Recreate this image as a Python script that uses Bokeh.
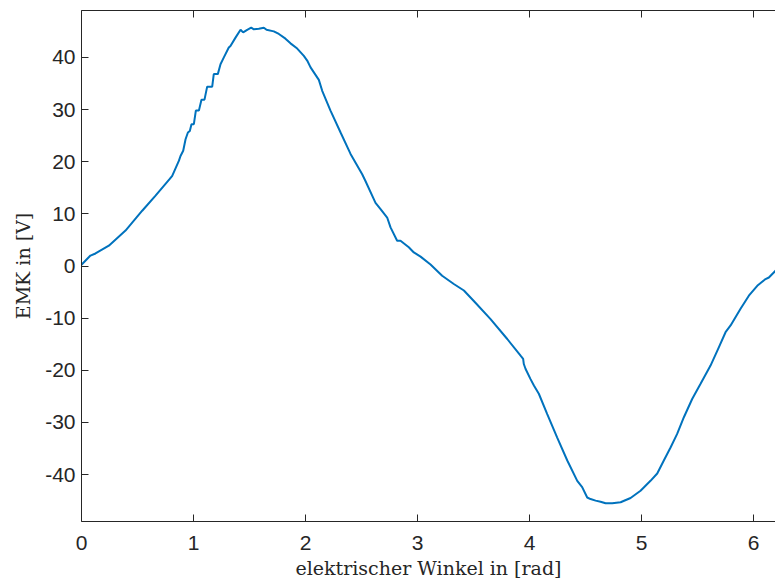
from bokeh.plotting import figure
from bokeh.models import Range1d, FixedTicker, LinearAxis
from bokeh.embed import file_html
from bokeh.resources import INLINE

# elektrischer Winkel [rad]
winkel = [0.0, 0.08, 0.125, 0.244, 0.393, 0.542, 0.661, 0.788, 0.81, 0.87,
          0.884, 0.908, 0.929, 0.95, 0.967, 0.982, 1.003, 1.021, 1.048, 1.071,
          1.098, 1.122, 1.167, 1.181, 1.217, 1.241, 1.271, 1.315, 1.33, 1.375,
          1.42, 1.443, 1.479, 1.515, 1.539, 1.583, 1.628, 1.652, 1.717, 1.762,
          1.821, 1.866, 1.926, 1.985, 2.015, 2.045, 2.119, 2.149, 2.223, 2.313,
          2.402, 2.506, 2.533, 2.625, 2.67, 2.729, 2.759, 2.818, 2.848, 2.922,
          2.967, 3.027, 3.116, 3.22, 3.324, 3.414, 3.515, 3.652, 3.801, 3.92,
          3.943, 3.949, 3.964, 4.009, 4.039, 4.083, 4.158, 4.247, 4.337, 4.426,
          4.47, 4.515, 4.545, 4.59, 4.634, 4.679, 4.738, 4.813, 4.902, 4.991,
          5.08, 5.14, 5.199, 5.259, 5.318, 5.378, 5.452, 5.527, 5.616, 5.69,
          5.75, 5.795, 5.884, 5.958, 6.033, 6.107, 6.137, 6.196, 6.283]
# EMK [V]
emk = [0.25, 2.0, 2.4, 3.9, 6.8, 10.6, 13.5, 16.7, 17.3, 20.2,
       21.1, 22.1, 24.3, 25.6, 25.9, 27.2, 27.2, 29.8, 29.8, 31.9,
       31.9, 34.4, 34.4, 36.8, 36.8, 38.7, 40.0, 41.9, 42.2, 43.8,
       45.3, 44.8, 45.3, 45.7, 45.4, 45.5, 45.7, 45.3, 45.0, 44.5,
       43.6, 42.7, 41.7, 40.3, 39.4, 38.1, 35.7, 33.6, 29.8, 25.6,
       21.5, 17.6, 16.4, 12.1, 10.9, 9.3, 7.4, 4.85, 4.85, 3.6,
       2.6, 1.8, 0.3, -1.86, -3.45, -4.7, -7.0, -10.2, -14.0, -17.2,
       -17.8, -18.8, -19.7, -21.7, -22.9, -24.5, -28.4, -32.9, -37.3, -41.2,
       -42.4, -44.4, -44.7, -45.0, -45.2, -45.5, -45.5, -45.3, -44.5, -43.1,
       -41.2, -39.8, -37.3, -34.8, -32.2, -29.0, -25.5, -22.6, -19.1, -15.6,
       -12.7, -11.4, -8.2, -5.7, -3.8, -2.5, -2.2, -0.9, 0.4]

x_ticks = [0, 1, 2, 3, 4, 5, 6]
y_ticks = [-40, -30, -20, -10, 0, 10, 20, 30, 40]
y_min, y_max = -49, 49

axis_color = "#262626"
tick_font = "Liberation Sans"
label_font = "DejaVu Serif"

p = figure(width=775, height=583, output_backend="svg", toolbar_location=None,
           x_range=Range1d(0, 6.196), y_range=Range1d(y_min, y_max),
           min_border_left=81, min_border_right=0, min_border_top=10,
           min_border_bottom=62)
p.outline_line_color = None
p.grid.visible = False
p.background_fill_color = "white"
p.border_fill_color = "white"

p.line(winkel, emk, line_color="#0072BD", line_width=2)

for ax in (p.xaxis[0], p.yaxis[0]):
    ax.axis_line_color = axis_color
    ax.major_tick_line_color = axis_color
    ax.major_tick_in = 7
    ax.major_tick_out = 0
    ax.minor_tick_line_color = None
    ax.major_label_text_font = tick_font
    ax.major_label_text_font_size = "21px"
    ax.major_label_text_color = axis_color
    ax.axis_label_text_font = label_font
    ax.axis_label_text_font_style = "normal"
    ax.axis_label_text_font_size = "19px"
    ax.axis_label_text_color = axis_color

p.xaxis[0].ticker = FixedTicker(ticks=x_ticks)
p.yaxis[0].ticker = FixedTicker(ticks=y_ticks)
p.xaxis[0].major_label_overrides = {t: str(t) for t in x_ticks}
p.yaxis[0].major_label_overrides = {t: str(t) for t in y_ticks}
p.xaxis[0].major_label_standoff = 14
p.yaxis[0].major_label_standoff = 6
p.xaxis[0].axis_label = "elektrischer Winkel in [rad]"
p.yaxis[0].axis_label = "EMK in [V]"
p.xaxis[0].axis_label_standoff = 4
p.yaxis[0].axis_label_standoff = 8

# top box edge with inward ticks (MATLAB style), no labels
top = LinearAxis(ticker=FixedTicker(ticks=x_ticks))
top.axis_line_color = axis_color
top.major_tick_line_color = axis_color
top.major_tick_in = 7
top.major_tick_out = 0
top.minor_tick_line_color = None
top.major_label_overrides = {t: "" for t in x_ticks}
top.major_label_text_font_size = "1px"
top.major_label_standoff = 0
p.add_layout(top, "above")

open("out.html", "w").write(file_html(p, INLINE))
